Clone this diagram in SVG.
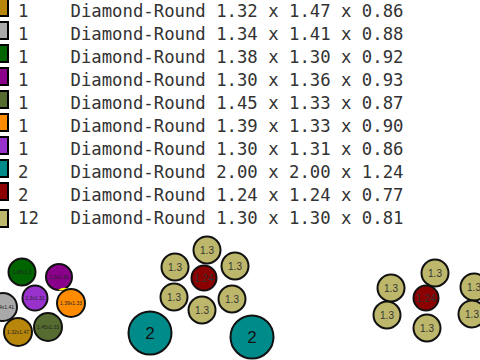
<svg xmlns="http://www.w3.org/2000/svg" width="480" height="360" viewBox="0 0 480 360">
<style>
.sw{stroke:#000;stroke-width:2}
.t{font-family:"DejaVu Sans Mono","Liberation Mono",monospace;font-size:17.3px;fill:#333}
.c{stroke:#111;stroke-width:2}
.l{font-family:"Liberation Sans",Arial,sans-serif;font-size:10px;fill:#333;text-anchor:middle}
.s{font-family:"Liberation Sans",Arial,sans-serif;font-size:5px;fill:#222;text-anchor:middle}
.b{font-family:"Liberation Sans",Arial,sans-serif;font-size:17px;fill:#111;text-anchor:middle}
</style>
<rect width="480" height="360" fill="#fff"/>
<g id="legend">
<rect class="sw" x="-3" y="-1" width="11" height="17" fill="#b8860b"/>
<rect class="sw" x="-3" y="22" width="11" height="17" fill="#a9a9a9"/>
<rect class="sw" x="-3" y="45" width="11" height="17" fill="#006400"/>
<rect class="sw" x="-3" y="68" width="11" height="17" fill="#8b008b"/>
<rect class="sw" x="-3" y="91" width="11" height="17" fill="#556b2f"/>
<rect class="sw" x="-3" y="114" width="11" height="17" fill="#ff8c00"/>
<rect class="sw" x="-3" y="137" width="11" height="17" fill="#9932cc"/>
<rect class="sw" x="-3" y="160" width="11" height="17" fill="#008b8b"/>
<rect class="sw" x="-3" y="183" width="11" height="17" fill="#8b0000"/>
<rect class="sw" x="-3" y="210" width="11" height="17" fill="#bdb76b"/>
<text class="t" x="18" y="16.5">1</text><text class="t" x="70.5" y="16.5">Diamond-Round 1.32 x 1.47 x 0.86</text>
<text class="t" x="18" y="39.5">1</text><text class="t" x="70.5" y="39.5">Diamond-Round 1.34 x 1.41 x 0.88</text>
<text class="t" x="18" y="62.5">1</text><text class="t" x="70.5" y="62.5">Diamond-Round 1.38 x 1.30 x 0.92</text>
<text class="t" x="18" y="85.5">1</text><text class="t" x="70.5" y="85.5">Diamond-Round 1.30 x 1.36 x 0.93</text>
<text class="t" x="18" y="108.5">1</text><text class="t" x="70.5" y="108.5">Diamond-Round 1.45 x 1.33 x 0.87</text>
<text class="t" x="18" y="131.5">1</text><text class="t" x="70.5" y="131.5">Diamond-Round 1.39 x 1.33 x 0.90</text>
<text class="t" x="18" y="154.5">1</text><text class="t" x="70.5" y="154.5">Diamond-Round 1.30 x 1.31 x 0.86</text>
<text class="t" x="18" y="177.5">2</text><text class="t" x="70.5" y="177.5">Diamond-Round 2.00 x 2.00 x 1.24</text>
<text class="t" x="18" y="200.5">2</text><text class="t" x="70.5" y="200.5">Diamond-Round 1.24 x 1.24 x 0.77</text>
<text class="t" x="18" y="223.5">12</text><text class="t" x="70.5" y="223.5">Diamond-Round 1.30 x 1.30 x 0.81</text>
</g>
<g id="cluster1">
<g id="n-green"><circle class="c" cx="22" cy="272" r="13.5" fill="#006400"/><text class="s" x="22" y="274">1.38x1.3</text></g>
<g id="n-purple"><circle class="c" cx="59" cy="277" r="13" fill="#8b008b"/><text class="s" x="59" y="279">1.3x1.36</text></g>
<g id="n-orchid"><circle class="c" cx="35" cy="298" r="12.5" fill="#9932cc"/><text class="s" x="35" y="300">1.3x1.31</text></g>
<path d="M58 290 Q64 286 68 289 Q63 291 58 290Z" fill="#ffff00"/>
<g id="n-orange"><circle class="c" cx="71" cy="303" r="14" fill="#ff8c00"/><text class="s" x="71" y="305">1.39x1.33</text></g>
<g id="n-gray"><circle class="c" cx="3" cy="307" r="14" fill="#a9a9a9"/><text class="s" x="3" y="309">1.34x1.41</text></g>
<g id="n-gold"><circle class="c" cx="18" cy="332" r="14" fill="#b8860b"/><text class="s" x="18" y="334">1.32x1.47</text></g>
<g id="n-olive"><circle class="c" cx="48" cy="327" r="14" fill="#556b2f"/><text class="s" x="48" y="329">1.45x1.33</text></g>
</g>
<g id="cluster2">
<g id="m1"><circle class="c" cx="207" cy="250" r="13.5" fill="#bdb76b"/><text class="l" x="207" y="253.5">1.3</text></g>
<g id="m2"><circle class="c" cx="175" cy="267" r="13.5" fill="#bdb76b"/><text class="l" x="175" y="270.5">1.3</text></g>
<g id="m3"><circle class="c" cx="235" cy="266" r="13.5" fill="#bdb76b"/><text class="l" x="235" y="269.5">1.3</text></g>
<g id="m4"><circle class="c" cx="204" cy="278" r="12.5" fill="#8b0000"/><text class="l" x="204" y="281.5">1.24</text></g>
<g id="m5"><circle class="c" cx="174" cy="297" r="13.5" fill="#bdb76b"/><text class="l" x="174" y="300.5">1.3</text></g>
<g id="m6"><circle class="c" cx="232" cy="299" r="13.5" fill="#bdb76b"/><text class="l" x="232" y="302.5">1.3</text></g>
<g id="m7"><circle class="c" cx="202" cy="310" r="13.5" fill="#bdb76b"/><text class="l" x="202" y="313.5">1.3</text></g>
<g id="m8"><circle class="c" cx="150" cy="333" r="21.5" fill="#008b8b"/><text class="b" x="150" y="339">2</text></g>
<g id="m9"><circle class="c" cx="252" cy="337" r="21.5" fill="#008b8b"/><text class="b" x="252" y="343">2</text></g>
</g>
<g id="cluster3">
<g id="r1"><circle class="c" cx="435" cy="273" r="13.5" fill="#bdb76b"/><text class="l" x="435" y="276.5">1.3</text></g>
<g id="r2"><circle class="c" cx="391" cy="288" r="13.5" fill="#bdb76b"/><text class="l" x="391" y="291.5">1.3</text></g>
<g id="r3"><circle class="c" cx="426" cy="298" r="12.5" fill="#8b0000"/><text class="l" x="426" y="301.5">1.24</text></g>
<g id="r4"><circle class="c" cx="387" cy="315" r="13.5" fill="#bdb76b"/><text class="l" x="387" y="318.5">1.3</text></g>
<g id="r5"><circle class="c" cx="427" cy="328" r="13.5" fill="#bdb76b"/><text class="l" x="427" y="331.5">1.3</text></g>
<g id="r6"><circle class="c" cx="474" cy="287" r="13.5" fill="#bdb76b"/><text class="l" x="474" y="290.5">1.3</text></g>
<g id="r7"><circle class="c" cx="472" cy="314" r="13.5" fill="#bdb76b"/><text class="l" x="472" y="317.5">1.3</text></g>
</g>
<g id="connectors"/>
</svg>
